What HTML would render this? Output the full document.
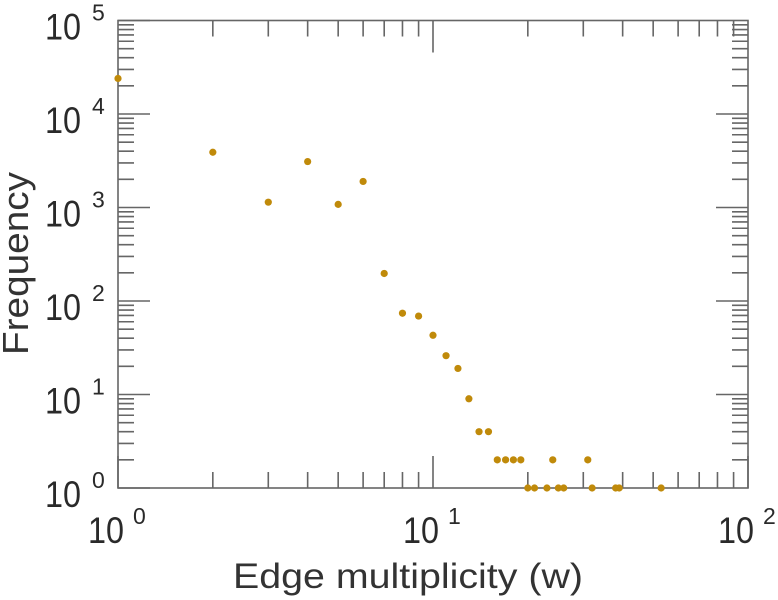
<!DOCTYPE html>
<html><head><meta charset="utf-8"><style>
html,body{margin:0;padding:0;background:#fff;}
svg{display:block;font-family:"Liberation Sans",sans-serif;}
</style></head><body>
<svg id="chart" width="778" height="600" viewBox="0 0 778 600" xmlns="http://www.w3.org/2000/svg">
<g id="frame"></g><g id="ticks"></g><g id="labels"></g><g id="points"></g>
<text x="233" y="588" font-size="35" textLength="350" lengthAdjust="spacingAndGlyphs" fill="#333">Edge multiplicity (w)</text>
<text transform="translate(28,355) rotate(-90)" font-size="36" textLength="183" lengthAdjust="spacingAndGlyphs" fill="#333">Frequency</text>
</svg>
<script>
const xValues=[1,2,3,4,5,6,7,8,9,10,11,12,13,14,15,16,17,18,19,24,31,20,21,23,25,26,32,38,39,53];
const yValues=[24000,3900,1140,3100,1080,1900,197,74,69,43,26,19,9,4,4,2,2,2,2,2,2,1,1,1,1,1,1,1,1,1];
const xTickExps=[0,1,2];
const yTickExps=[0,1,2,3,4,5];
const NS="http://www.w3.org/2000/svg";
const L=118,R=748,T=20.5,B=488;
function xs(v){return L+(Math.log10(v)-0)/2*(R-L);}
function ys(v){return B-(Math.log10(v)-0)/5*(B-T);}
function mk(tag,attrs,parent){const e=document.createElementNS(NS,tag);for(const k in attrs)e.setAttribute(k,attrs[k]);parent.appendChild(e);return e;}
const frame=document.getElementById('frame'),ticks=document.getElementById('ticks'),labels=document.getElementById('labels'),pts=document.getElementById('points');
const fr=mk('rect',{x:L,y:T,width:R-L,height:B-T,fill:'none',stroke:'#666','stroke-width':1.6},frame);


let d='';
for(let e=0;e<2;e++)for(let m=1;m<10;m++){const x=xs(m*Math.pow(10,e));const len=m===1?32:16;if(m===1&&e===0)continue;d+=`M${x},${B}v${-len}M${x},${T}v${len}`;}
for(let e=0;e<5;e++)for(let m=1;m<10;m++){const y=ys(m*Math.pow(10,e));const len=m===1?32:16;if(m===1&&e===0)continue;d+=`M${L},${y}h${len}M${R},${y}h${-len}`;}
d+=`M${L},${B}h32M${L},${B}v-32M${L},${T}h32M${R},${B}v-32`;
const tp=mk('path',{d:d,stroke:'#666','stroke-width':1.6,fill:'none'},ticks);


xTickExps.forEach(e=>{const x=xs(Math.pow(10,e));
 const t=mk('text',{x:x-30,y:543,'font-size':37,fill:'#2a2a2a',textLength:36,lengthAdjust:'spacingAndGlyphs'},labels);t.textContent='10';
 
 
 const s=mk('text',{x:x+15,y:524,'font-size':23,fill:'#2a2a2a'},labels);s.textContent=String(e);
 
 });
yTickExps.forEach(e=>{const y=ys(Math.pow(10,e));
 const t=mk('text',{x:45,y:y+19,'font-size':37,fill:'#2a2a2a',textLength:36,lengthAdjust:'spacingAndGlyphs'},labels);t.textContent='10';
 
 
 const s=mk('text',{x:92,y:y,'font-size':23,fill:'#2a2a2a'},labels);s.textContent=String(e);
 
 });
xValues.forEach((v,i)=>{const c=mk('circle',{cx:xs(v),cy:ys(yValues[i]),r:3.6,fill:'#c08a0a'},pts);
 
 });
</script>
</body></html>
